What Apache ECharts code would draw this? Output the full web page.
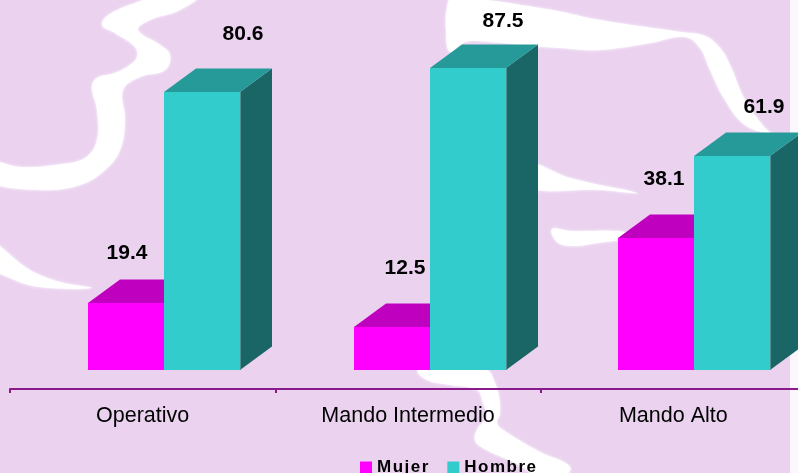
<!DOCTYPE html>
<html>
<head>
<meta charset="utf-8">
<style>html,body{margin:0;padding:0;background:#EBD3F0;overflow:hidden}#c{width:798px;height:473px}</style>
<script src="https://cdn.jsdelivr.net/npm/echarts@6/dist/echarts.min.js"></script>
</head>
<body>
<div id="c"></div>
<script>
const categories = ['Operativo', 'Mando Intermedio', 'Mando Alto'];
const mujer = [19.4, 12.5, 38.1];
const hombre = [80.6, 87.5, 61.9];
const legendNames = ['Mujer', 'Hombre'];

// Placement of the drawing, kept apart from the values
const barWidth = 76, depthX = 32, depthY = 23.5;
const groupShift = [21, 21.5, 21];
const mujerLabelNudge = [[1, -50], [13, -59], [8, -59]];
const hombreLabelNudge = [[41, -58], [35, -47], [32, -49]];

// Decorative white brush strokes of the backdrop
const strokeA = [[143,0],[110,14],[102,25],[115,33],[135,47],[137,57],[130,65],[115,73],[97,78],[92,87],[97,110],[97,140],[85,158],[55,165],[20,167],[-12,162],[-12,181],[40,190],[80,185],[105,170],[120,150],[125,120],[123,90],[140,77],[165,70],[170,55],[160,45],[138,30],[150,20],[180,10],[200,-6],[160,-6]];
const strokeB = [[-12,240],[30,270],[60,282],[92,288],[40,287],[10,278],[-12,264]];
const strokeC = [[447,8],[452,-2],[540,8],[600,20],[680,32],[705,36],[720,48],[730,65],[745,100],[765,128],[772,134],[745,125],[725,100],[710,70],[700,48],[685,37],[650,43],[600,50],[560,48],[530,46],[490,42],[465,42],[450,52],[446,30]];
const strokeD = [[525,162],[570,178],[637,193],[600,190],[525,187]];
const strokeE = [[552,229],[570,231],[625,232],[625,238],[597,243],[573,246],[557,242]];
const strokeF = [[418,370],[427,380],[450,385],[477,390],[483,403],[487,417],[478,428],[475,440],[483,448],[523,467],[540,480],[560,480],[570,467],[540,452],[503,430],[497,423],[500,413],[499,397],[495,383],[487,370],[450,360]];
const brushStrokes = [strokeA, strokeB, strokeC, strokeD, strokeE, strokeF];

// Legend text in the reference is letter-spaced; canvas exposes that only on the context
const baseFillText = CanvasRenderingContext2D.prototype.fillText;
CanvasRenderingContext2D.prototype.fillText = function (t, x, y, m) {
  this.letterSpacing = legendNames.includes(t) ? '1.5px' : '0px';
  return m === undefined ? baseFillText.call(this, t, x, y) : baseFillText.call(this, t, x, y, m);
};

function barRenderer(isRight, colors, nudges) {
  return function (params, api) {
    const i = api.value(0);
    const val = api.value(1);
    const band = api.coord([i, 0]);
    const top = Math.round(api.coord([i, val])[1]);
    const base = Math.round(band[1]);
    const center = Math.round(band[0] + groupShift[i]);
    const x0 = isRight ? center : center - barWidth;
    const x1 = x0 + barWidth;
    const children = [
      { type: 'polygon', shape: { points: [[x1, top], [x1 + depthX, top - depthY], [x1 + depthX, base - depthY], [x1, base]] }, style: { fill: colors.side } },
      { type: 'polygon', shape: { points: [[x0, top], [x0 + depthX, top - depthY], [x1 + depthX, top - depthY], [x1, top]] }, style: { fill: colors.top } },
      { type: 'rect', shape: { x: x0, y: top, width: barWidth, height: base - top }, style: { fill: colors.front } }
    ];
    if (isRight) {
      children.push({ type: 'line', shape: { x1: x1 + 0.5, y1: top, x2: x1 + 0.5, y2: base }, style: { stroke: '#4F8F90', lineWidth: 1 } });
    }
    children.push({
      type: 'text',
      z2: 20,
      style: {
        text: val.toFixed(1),
        x: (x0 + x1) / 2 + nudges[i][0],
        y: top + nudges[i][1],
        font: 'bold 21px "Liberation Sans", Arial, sans-serif',
        fill: '#000000',
        align: 'center',
        verticalAlign: 'middle'
      }
    });
    return { type: 'group', children };
  };
}

const chart = echarts.init(document.getElementById('c'), null, { renderer: 'canvas' });
chart.setOption({
  animation: false,
  backgroundColor: '#EBD3F0',
  grid: { left: 10, width: 796, top: 24.5, height: 345.5, outerBoundsMode: 'none', containLabel: false },
  xAxis: {
    type: 'category',
    data: categories,
    position: 'bottom',
    offset: 19,
    axisLine: { onZero: false, lineStyle: { color: '#8B1A8B', width: 2 } },
    axisTick: { show: true, length: 4, inside: false, lineStyle: { color: '#8B1A8B', width: 2 } },
    axisLabel: { margin: 16, color: '#000000', fontSize: 21.5, fontFamily: '"Liberation Sans", Arial, sans-serif' }
  },
  yAxis: { type: 'value', min: 0, max: 100, show: false, splitLine: { show: false } },
  legend: {
    left: 360,
    top: 459,
    padding: 0,
    itemWidth: 12,
    itemHeight: 12,
    itemGap: 25,
    icon: 'rect',
    data: legendNames,
    textStyle: { color: '#000000', fontWeight: 'bold', fontSize: 17, fontFamily: '"Liberation Sans", Arial, sans-serif' }
  },
  graphic: brushStrokes.map(s => ({
    type: 'polygon', silent: true, z: -10,
    shape: { points: s, smooth: 0.4 },
    style: { fill: '#FFFFFF', shadowBlur: 3, shadowColor: '#FFFFFF' }
  })).concat([{
    type: 'rect', silent: true, z: -9,
    shape: { x: 790, y: 0, width: 8, height: 473 },
    style: { fill: '#FCF7FD' }
  }]),
  series: [
    {
      name: legendNames[0], type: 'custom', clip: false, z: 3,
      itemStyle: { color: '#FF00FF' },
      encode: { x: 0, y: 1 },
      data: mujer.map((v, i) => [i, v]),
      renderItem: barRenderer(false, { front: '#FF00FF', top: '#BF00BF', side: '#800080' }, mujerLabelNudge)
    },
    {
      name: legendNames[1], type: 'custom', clip: false, z: 4,
      itemStyle: { color: '#33CCCC' },
      encode: { x: 0, y: 1 },
      data: hombre.map((v, i) => [i, v]),
      renderItem: barRenderer(true, { front: '#33CCCC', top: '#269999', side: '#1A6666' }, hombreLabelNudge)
    }
  ]
});
</script>
</body>
</html>
